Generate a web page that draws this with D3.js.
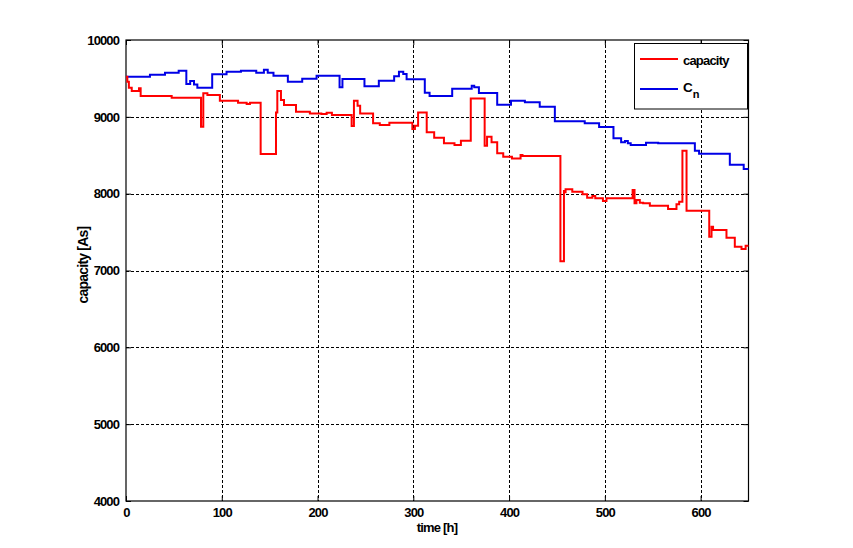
<!DOCTYPE html>
<html>
<head>
<meta charset="utf-8">
<script src="https://cdn.jsdelivr.net/npm/d3@7"></script>
<style>
  html, body { margin: 0; padding: 0; background: #fff; }
  svg { display: block; }
  text { font-family: "Liberation Sans", Arial, sans-serif; font-weight: bold; fill: #000; }
</style>
</head>
<body>
<svg id="chart" width="853" height="548"></svg>
<script>
// ---- data ----
const capTime = [0, 1.4, 3, 6, 13.6, 15.3, 47.7, 78.3, 80.7, 85, 98, 117, 126, 129.4, 140.6, 156.6, 158, 161.8, 165, 177.5, 192, 204, 209.5, 215, 235.6, 238, 241.8, 244.5, 258, 265, 275, 299, 301.7, 305, 314, 321.8, 332, 343, 349.7, 360, 374.5, 377, 381.7, 387.6, 393.9, 403, 412, 414, 453.6, 457.3, 458.2, 459, 466, 476.7, 481.5, 487, 490, 498, 501.7, 529, 531, 533, 536.5, 540, 547, 566, 574.8, 577.6, 581, 585.3, 609, 611.4, 613, 627, 635.7, 642.7, 647, 650];
const capValue = [9522, 9457, 9380, 9336, 9371, 9271, 9249, 8871, 9306, 9284, 9210, 9184, 9167, 9184, 8516, 9058, 9336, 9219, 9154, 9067, 9045, 9036, 9054, 9025, 8880, 9210, 9145, 9045, 8915, 8893, 8923, 8841, 8884, 9058, 8798, 8728, 8655, 8633, 8689, 9240, 8624, 8741, 8668, 8525, 8481, 8459, 8503, 8490, 7122, 8034, 8017, 8056, 8025, 7991, 7947, 7969, 7939, 7904, 7939, 8047, 7874, 7917, 7883, 7874, 7843, 7799, 7861, 7895, 8559, 7778, 7439, 7569, 7526, 7426, 7309, 7279, 7322, 7322];

const cnTime = [0, 25, 40.7, 55, 63, 67, 71, 74.5, 90, 105, 120, 136, 144, 148, 154, 169, 184, 199, 223, 226, 249, 264, 280, 285, 289.5, 293, 312, 317, 340.6, 361, 363.6, 368.5, 387.6, 402, 416.5, 432, 447.8, 479, 494, 509, 517, 521, 524, 527, 543, 555.7, 594, 598.4, 630.5, 645, 650];
const cnValue = [9522, 9548, 9574, 9600, 9427, 9466, 9422, 9380, 9553, 9587, 9600, 9574, 9613, 9574, 9535, 9457, 9496, 9535, 9384, 9492, 9397, 9470, 9527, 9587, 9557, 9488, 9314, 9271, 9366, 9405, 9384, 9310, 9158, 9210, 9189, 9132, 8941, 8915, 8867, 8720, 8668, 8685, 8655, 8633, 8663, 8655, 8559, 8520, 8377, 8320, 8320];

const xTicks = [0, 100, 200, 300, 400, 500, 600];
const yTicks = [4000, 5000, 6000, 7000, 8000, 9000, 10000];
const seriesNames = ["capacity", "C"];
const xLabel = "time [h]";
const yLabel = "capacity [As]";

// ---- layout ----
const L = 126, R = 748.5, T = 40, B = 501;
const svg = d3.select("#chart");
const x = d3.scaleLinear().domain([0, 650]).range([L, R]);
const y = d3.scaleLinear().domain([4000, 10000]).range([B, T]);

// grid
const grid = svg.append("g").attr("stroke", "#000").attr("stroke-width", 1).attr("stroke-dasharray", "3,2");
xTicks.filter(d => d > 0).forEach(d => {
  grid.append("line").attr("x1", Math.round(x(d)) + 0.5).attr("x2", Math.round(x(d)) + 0.5).attr("y1", T).attr("y2", B);
});
yTicks.filter(d => d > 4000 && d < 10000).forEach(d => {
  grid.append("line").attr("x1", L).attr("x2", R).attr("y1", Math.round(y(d)) + 0.5).attr("y2", Math.round(y(d)) + 0.5);
});

// axes (ticks inward)
const axB = svg.append("g").attr("transform", `translate(0,${B})`)
  .call(d3.axisBottom(x).tickValues(xTicks).tickSizeInner(-5).tickSizeOuter(0).tickPadding(7).tickFormat(d3.format("d")));
const axT = svg.append("g").attr("transform", `translate(0,${T})`)
  .call(d3.axisTop(x).tickValues(xTicks).tickSizeInner(-5).tickSizeOuter(0).tickFormat(""));
const axL = svg.append("g").attr("transform", `translate(${L},0)`)
  .call(d3.axisLeft(y).tickValues(yTicks).tickSizeInner(-5).tickSizeOuter(0).tickPadding(8).tickFormat(d3.format("d")));
const axR = svg.append("g").attr("transform", `translate(${R},0)`)
  .call(d3.axisRight(y).tickValues(yTicks).tickSizeInner(-5).tickSizeOuter(0).tickFormat(""));
[axB, axT, axL, axR].forEach(a => {
  a.select(".domain").remove();
  a.selectAll("line").attr("stroke", "#000");
  a.selectAll("text").style("font-size", "13px").style("letter-spacing", "-0.9px");
});
axL.selectAll("text").attr("dx", "1");

// box
svg.append("rect").attr("x", L).attr("y", T).attr("width", R - L).attr("height", B - T)
  .attr("fill", "none").attr("stroke", "#000").attr("stroke-width", 1.2);

// lines
const line = d3.line().x(d => x(d[0])).y(d => y(d[1])).curve(d3.curveStepAfter);
const capData = capTime.map((t, i) => [t, capValue[i]]);
const cnData = cnTime.map((t, i) => [t, cnValue[i]]);
svg.append("path").datum(cnData).attr("d", line).attr("fill", "none").attr("stroke", "#0000e6").attr("stroke-width", 2);
svg.append("path").datum(capData).attr("d", line).attr("fill", "none").attr("stroke", "#ff0000").attr("stroke-width", 2);

// axis labels
svg.append("text").attr("x", 437).attr("y", 532).attr("text-anchor", "middle")
  .style("font-size", "13px").style("letter-spacing", "-0.8px").text(xLabel);
svg.append("text").attr("transform", "translate(88,265) rotate(-90)").attr("text-anchor", "middle")
  .style("font-size", "14px").style("letter-spacing", "-0.8px").text(yLabel);

// legend
const lg = svg.append("g");
lg.append("rect").attr("x", 634.5).attr("y", 43.5).attr("width", 113).attr("height", 65.5)
  .attr("fill", "#fff").attr("stroke", "#000").attr("stroke-width", 1);
lg.append("line").attr("x1", 640).attr("x2", 678).attr("y1", 59).attr("y2", 59).attr("stroke", "#ff0000").attr("stroke-width", 2);
lg.append("line").attr("x1", 640).attr("x2", 678).attr("y1", 89).attr("y2", 89).attr("stroke", "#0000e6").attr("stroke-width", 2);
lg.append("text").attr("x", 683).attr("y", 65).style("font-size", "13px").style("letter-spacing", "-0.8px").text(seriesNames[0]);
const cn = lg.append("text").attr("x", 683).attr("y", 92).style("font-size", "13.5px");
cn.append("tspan").text(seriesNames[1]);
cn.append("tspan").attr("dy", 6).style("font-size", "11px").text("n");
</script>
</body>
</html>
